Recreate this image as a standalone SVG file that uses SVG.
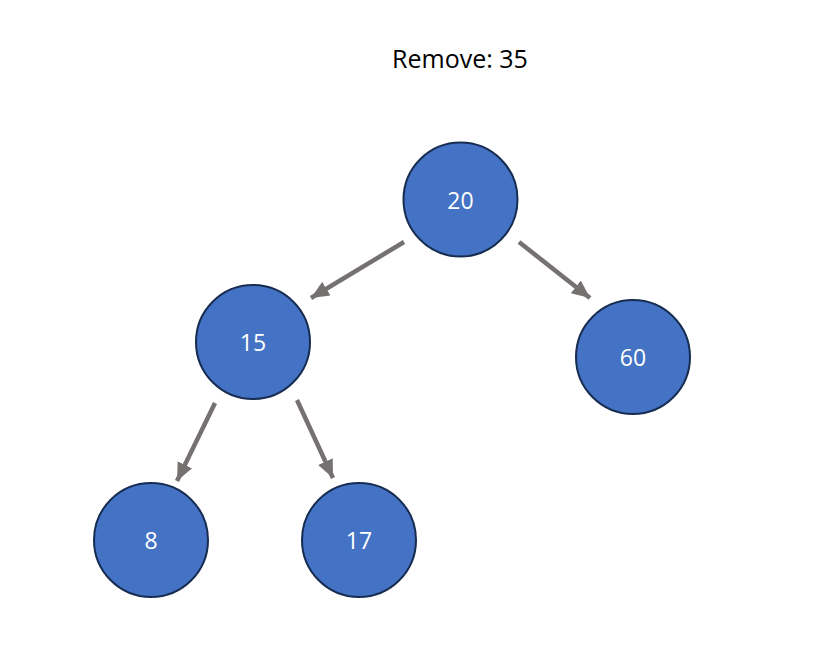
<svg xmlns="http://www.w3.org/2000/svg" width="836" height="647" viewBox="0 0 836 647">
<defs>
<marker id="ah" markerUnits="userSpaceOnUse" markerWidth="20" markerHeight="20" viewBox="0 0 20 20" refX="18" refY="10" orient="auto">
<path d="M0,2 L18,10 L0,18 Z" fill="#767171"/>
</marker>
<style>
.n circle{fill:#4472C4;stroke:#172C51;stroke-width:2}
.n text{fill:#fff;font-family:"Open Sans","Liberation Sans",sans-serif;font-size:23px;text-anchor:middle;dominant-baseline:central}
.e line{stroke:#767171;stroke-width:4.5;marker-end:url(#ah)}
.t{font-family:"Open Sans","Liberation Sans",sans-serif;font-size:25px;fill:#000;text-anchor:middle}
</style>
</defs>
<rect width="836" height="647" fill="#fff"/>
<text class="t" x="460" y="68">Remove: 35</text>
<g id="edges" class="e">
<line x1="404" y1="242" x2="311" y2="298"/>
<line x1="519" y1="242" x2="590" y2="298"/>
<line x1="215" y1="403" x2="177" y2="481"/>
<line x1="297" y1="400" x2="333" y2="478"/>
</g>
<g id="n20" class="n"><circle cx="460.5" cy="199.5" r="57"/><text x="460.5" y="200">20</text></g>
<g id="n15" class="n"><circle cx="253" cy="342" r="57"/><text x="253" y="342">15</text></g>
<g id="n60" class="n"><circle cx="633" cy="357" r="57"/><text x="633" y="357">60</text></g>
<g id="n8" class="n"><circle cx="151" cy="540" r="57"/><text x="151" y="540">8</text></g>
<g id="n17" class="n"><circle cx="359" cy="540" r="57"/><text x="359" y="540">17</text></g>
</svg>
